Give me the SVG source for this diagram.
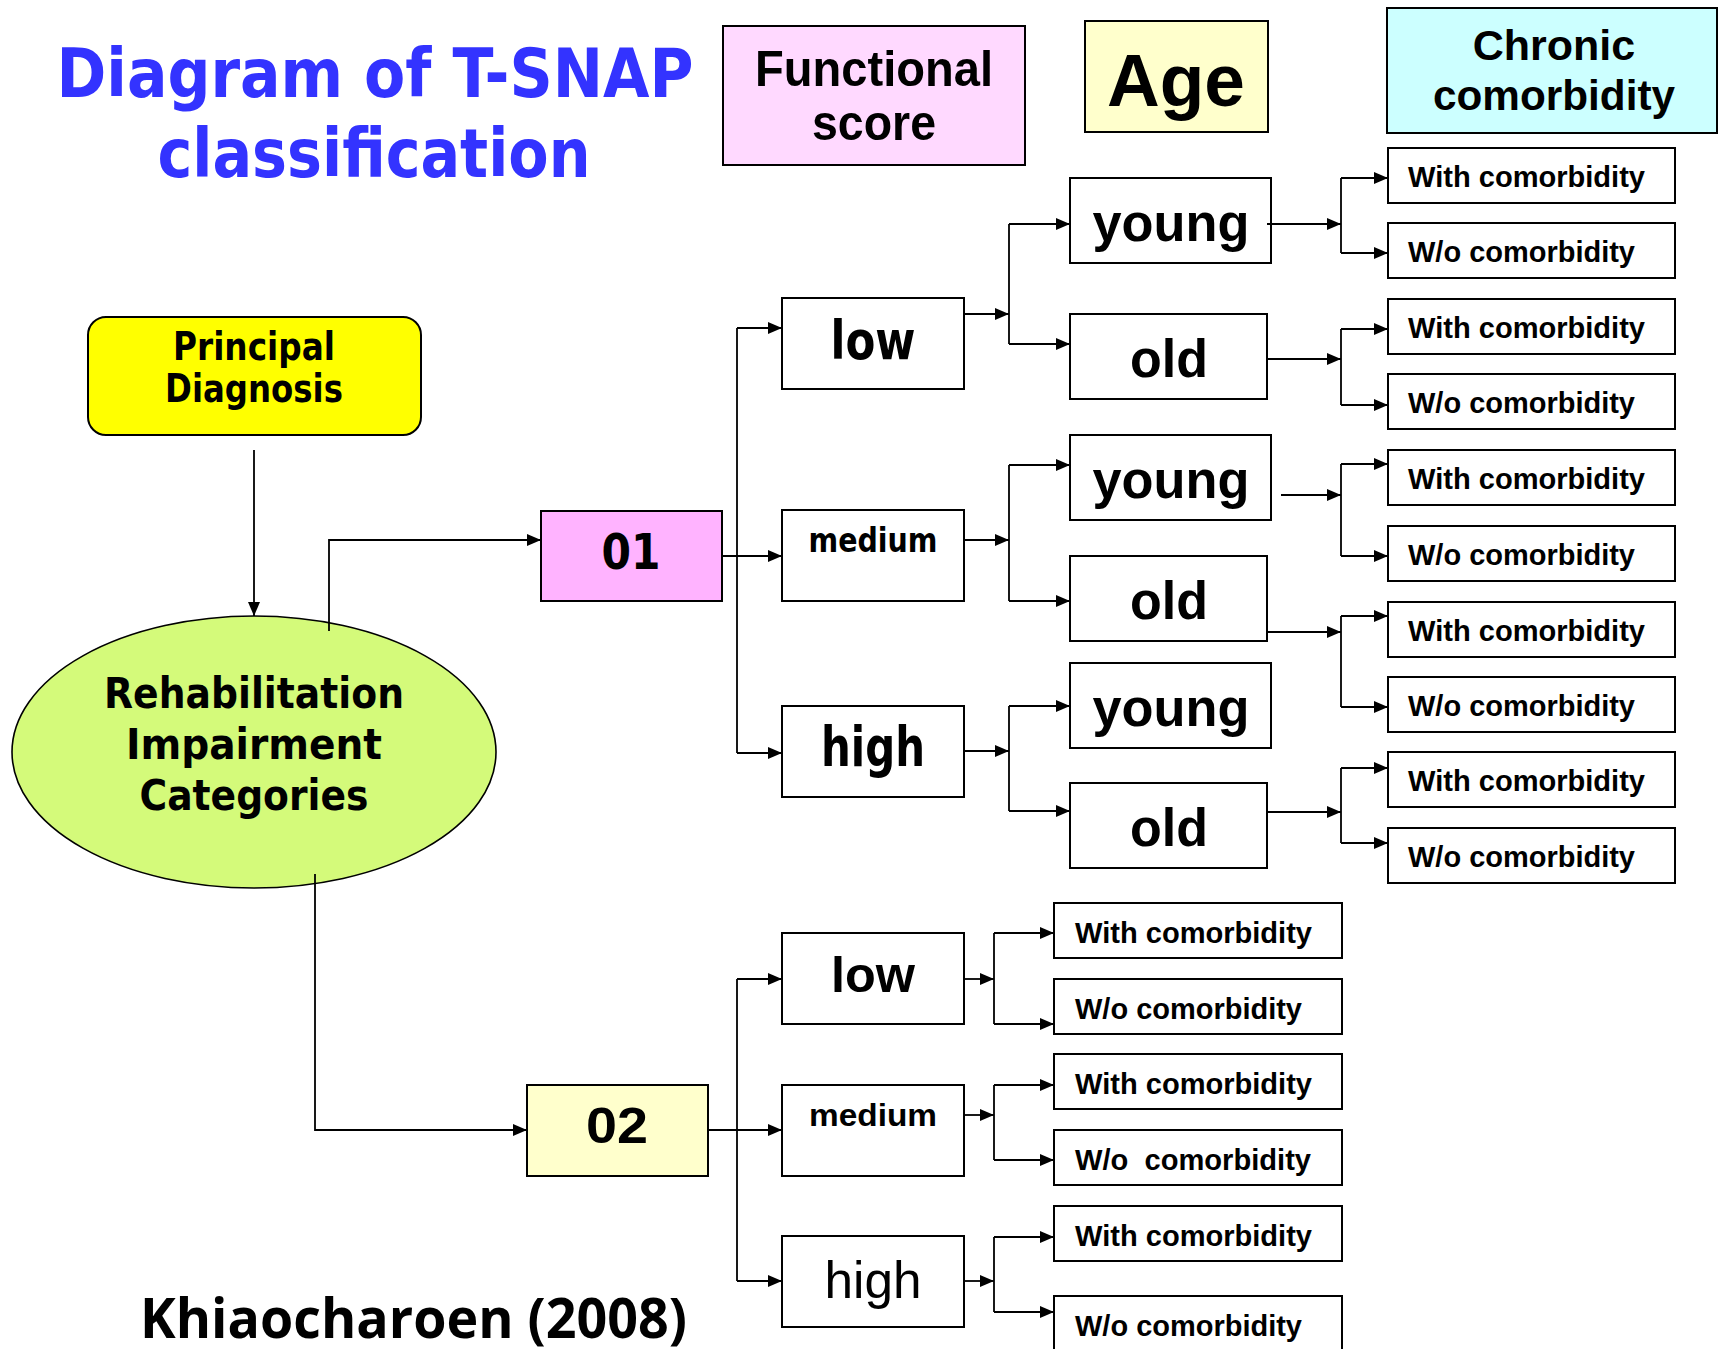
<svg xmlns="http://www.w3.org/2000/svg" width="1720" height="1349" viewBox="0 0 1720 1349">
<defs>
<marker id="ah" viewBox="0 0 14 12" refX="14" refY="6" markerWidth="14" markerHeight="12" markerUnits="userSpaceOnUse" orient="auto">
<path d="M0,0 L14,6 L0,12 z" fill="#000"/>
</marker>
<style>
.box{fill:#fff;stroke:#000;stroke-width:2}
.ln{fill:none;stroke:#000;stroke-width:1.8}
.ar{fill:none;stroke:#000;stroke-width:1.8;marker-end:url(#ah)}
.v{font-family:"DejaVu Sans",Verdana,sans-serif;font-weight:bold;fill:#000;text-anchor:middle}
.a{font-family:"Liberation Sans",Arial,sans-serif;font-weight:bold;fill:#000;text-anchor:middle}
.c{font-family:"Liberation Sans",Arial,sans-serif;font-weight:bold;fill:#000;font-size:30px}
.title{font-family:"DejaVu Sans",Verdana,sans-serif;font-weight:bold;fill:#3333FF;font-size:67px;text-anchor:middle}
.age{font-size:54px}
</style>
</defs>
<rect width="1720" height="1349" fill="#fff"/>

<g id="title">
<text class="title" x="375" y="97" textLength="637" lengthAdjust="spacingAndGlyphs">Diagram of T-SNAP</text>
<text class="title" x="374" y="177" textLength="433" lengthAdjust="spacingAndGlyphs">classification</text>
</g>

<g id="hdr-functional">
<rect x="723" y="26" width="302" height="139" fill="#FFD9FF" stroke="#000" stroke-width="2"/>
<text class="a" x="874" y="86" font-size="50" textLength="238" lengthAdjust="spacingAndGlyphs">Functional</text>
<text class="a" x="874" y="140" font-size="50" textLength="124" lengthAdjust="spacingAndGlyphs">score</text>
</g>
<g id="hdr-age">
<rect x="1085" y="21" width="183" height="111" fill="#FFFFCC" stroke="#000" stroke-width="2"/>
<text class="a" x="1176" y="106" font-size="75" textLength="138" lengthAdjust="spacingAndGlyphs">Age</text>
</g>
<g id="hdr-chronic">
<rect x="1387" y="8" width="330" height="125" fill="#CCFFFF" stroke="#000" stroke-width="2"/>
<text class="a" x="1554" y="60" font-size="43">Chronic</text>
<text class="a" x="1554" y="110" font-size="43" textLength="242" lengthAdjust="spacingAndGlyphs">comorbidity</text>
</g>

<g id="principal-diagnosis">
<rect x="88" y="317" width="333" height="118" rx="18" fill="#FFFF00" stroke="#000" stroke-width="2"/>
<text class="v" x="254" y="360" font-size="39" textLength="162" lengthAdjust="spacingAndGlyphs">Principal</text>
<text class="v" x="254" y="402" font-size="39" textLength="178" lengthAdjust="spacingAndGlyphs">Diagnosis</text>
</g>

<g id="ric">
<ellipse cx="254" cy="752" rx="242" ry="136" fill="#D4FA7A" stroke="#000" stroke-width="1.6"/>
<text class="v" x="254" y="708" font-size="43" textLength="300" lengthAdjust="spacingAndGlyphs">Rehabilitation</text>
<text class="v" x="254" y="759" font-size="43" textLength="256" lengthAdjust="spacingAndGlyphs">Impairment</text>
<text class="v" x="254" y="810" font-size="43" textLength="229" lengthAdjust="spacingAndGlyphs">Categories</text>
</g>

<g id="n01">
<rect x="541" y="511" width="181" height="90" fill="#FFB3FF" stroke="#000" stroke-width="2"/>
<text class="v" x="631" y="569" font-size="49" textLength="59" lengthAdjust="spacingAndGlyphs">01</text>
</g>
<g id="n01-low">
<rect class="box" x="782" y="298" width="182" height="91"/>
<text class="v" x="873" y="359" font-size="53" textLength="85" lengthAdjust="spacingAndGlyphs">low</text>
</g>
<g id="n01-medium">
<rect class="box" x="782" y="510" width="182" height="91"/>
<text class="v" x="873" y="552" font-size="33" textLength="129" lengthAdjust="spacingAndGlyphs">medium</text>
</g>
<g id="n01-high">
<rect class="box" x="782" y="706" width="182" height="91"/>
<text class="v" x="873" y="766" font-size="55" textLength="104" lengthAdjust="spacingAndGlyphs">high</text>
</g>

<g id="young1"><rect class="box" x="1070" y="178" width="201" height="85"/><text class="a age" x="1171" y="241" textLength="157" lengthAdjust="spacingAndGlyphs">young</text></g>
<g id="old1"><rect class="box" x="1070" y="314" width="197" height="85"/><text class="a age" x="1169" y="377" textLength="78" lengthAdjust="spacingAndGlyphs">old</text></g>
<g id="young2"><rect class="box" x="1070" y="435" width="201" height="85"/><text class="a age" x="1171" y="498" textLength="157" lengthAdjust="spacingAndGlyphs">young</text></g>
<g id="old2"><rect class="box" x="1070" y="556" width="197" height="85"/><text class="a age" x="1169" y="619" textLength="78" lengthAdjust="spacingAndGlyphs">old</text></g>
<g id="young3"><rect class="box" x="1070" y="663" width="201" height="85"/><text class="a age" x="1171" y="726" textLength="157" lengthAdjust="spacingAndGlyphs">young</text></g>
<g id="old3"><rect class="box" x="1070" y="783" width="197" height="85"/><text class="a age" x="1169" y="846" textLength="78" lengthAdjust="spacingAndGlyphs">old</text></g>

<g id="c01"><rect class="box" x="1388" y="148" width="287" height="55"/><text class="c" x="1408" y="187" textLength="237" lengthAdjust="spacingAndGlyphs">With comorbidity</text></g>
<g id="c02"><rect class="box" x="1388" y="223" width="287" height="55"/><text class="c" x="1408" y="262" textLength="227" lengthAdjust="spacingAndGlyphs">W/o comorbidity</text></g>
<g id="c03"><rect class="box" x="1388" y="299" width="287" height="55"/><text class="c" x="1408" y="338" textLength="237" lengthAdjust="spacingAndGlyphs">With comorbidity</text></g>
<g id="c04"><rect class="box" x="1388" y="374" width="287" height="55"/><text class="c" x="1408" y="413" textLength="227" lengthAdjust="spacingAndGlyphs">W/o comorbidity</text></g>
<g id="c05"><rect class="box" x="1388" y="450" width="287" height="55"/><text class="c" x="1408" y="489" textLength="237" lengthAdjust="spacingAndGlyphs">With comorbidity</text></g>
<g id="c06"><rect class="box" x="1388" y="526" width="287" height="55"/><text class="c" x="1408" y="565" textLength="227" lengthAdjust="spacingAndGlyphs">W/o comorbidity</text></g>
<g id="c07"><rect class="box" x="1388" y="602" width="287" height="55"/><text class="c" x="1408" y="641" textLength="237" lengthAdjust="spacingAndGlyphs">With comorbidity</text></g>
<g id="c08"><rect class="box" x="1388" y="677" width="287" height="55"/><text class="c" x="1408" y="716" textLength="227" lengthAdjust="spacingAndGlyphs">W/o comorbidity</text></g>
<g id="c09"><rect class="box" x="1388" y="752" width="287" height="55"/><text class="c" x="1408" y="791" textLength="237" lengthAdjust="spacingAndGlyphs">With comorbidity</text></g>
<g id="c10"><rect class="box" x="1388" y="828" width="287" height="55"/><text class="c" x="1408" y="867" textLength="227" lengthAdjust="spacingAndGlyphs">W/o comorbidity</text></g>

<g id="n02">
<rect x="527" y="1085" width="181" height="91" fill="#FFFFCC" stroke="#000" stroke-width="2"/>
<text class="a" x="617" y="1143" font-size="50" textLength="62" lengthAdjust="spacingAndGlyphs">02</text>
</g>
<g id="n02-low">
<rect class="box" x="782" y="933" width="182" height="91"/>
<text class="a" x="873" y="992" font-size="50" textLength="84" lengthAdjust="spacingAndGlyphs">low</text>
</g>
<g id="n02-medium">
<rect class="box" x="782" y="1085" width="182" height="91"/>
<text class="a" x="873" y="1126" font-size="32" textLength="128" lengthAdjust="spacingAndGlyphs">medium</text>
</g>
<g id="n02-high">
<rect class="box" x="782" y="1236" width="182" height="91"/>
<text class="a" x="873" y="1298" font-size="52" style="font-weight:normal" textLength="97" lengthAdjust="spacingAndGlyphs">high</text>
</g>

<g id="d01"><rect class="box" x="1054" y="903" width="288" height="55"/><text class="c" x="1075" y="943" textLength="237" lengthAdjust="spacingAndGlyphs">With comorbidity</text></g>
<g id="d02"><rect class="box" x="1054" y="979" width="288" height="55"/><text class="c" x="1075" y="1019" textLength="227" lengthAdjust="spacingAndGlyphs">W/o comorbidity</text></g>
<g id="d03"><rect class="box" x="1054" y="1054" width="288" height="55"/><text class="c" x="1075" y="1094" textLength="237" lengthAdjust="spacingAndGlyphs">With comorbidity</text></g>
<g id="d04"><rect class="box" x="1054" y="1130" width="288" height="55"/><text class="c" x="1075" y="1170" xml:space="preserve" textLength="236" lengthAdjust="spacingAndGlyphs">W/o  comorbidity</text></g>
<g id="d05"><rect class="box" x="1054" y="1206" width="288" height="55"/><text class="c" x="1075" y="1246" textLength="237" lengthAdjust="spacingAndGlyphs">With comorbidity</text></g>
<g id="d06"><rect class="box" x="1054" y="1296" width="288" height="60"/><text class="c" x="1075" y="1336" textLength="227" lengthAdjust="spacingAndGlyphs">W/o comorbidity</text></g>

<g id="credit">
<text x="140" y="1338" font-family="'Open Sans','Noto Sans',sans-serif" font-weight="bold" font-size="55" textLength="547" lengthAdjust="spacingAndGlyphs">Khiaocharoen (2008)</text>
</g>

<g id="connectors">
<path class="ar" d="M254,450 V616"/>
<path class="ar" d="M329,631 V540 H541"/>
<path class="ar" d="M315,874 V1130 H527"/>

<path class="ln" d="M722,556 H737 M737,328 V753"/>
<path class="ar" d="M737,328 H782"/>
<path class="ar" d="M737,556 H782"/>
<path class="ar" d="M737,753 H782"/>

<path class="ar" d="M964,314 H1009"/>
<path class="ln" d="M1009,224 V344"/>
<path class="ar" d="M1009,224 H1070"/>
<path class="ar" d="M1009,344 H1070"/>

<path class="ar" d="M964,540 H1009"/>
<path class="ln" d="M1009,465 V601"/>
<path class="ar" d="M1009,465 H1070"/>
<path class="ar" d="M1009,601 H1070"/>

<path class="ar" d="M964,751 H1009"/>
<path class="ln" d="M1009,706 V811"/>
<path class="ar" d="M1009,706 H1070"/>
<path class="ar" d="M1009,811 H1070"/>

<path class="ar" d="M1267,224 H1341"/>
<path class="ln" d="M1341,178 V253"/>
<path class="ar" d="M1341,178 H1388"/>
<path class="ar" d="M1341,253 H1388"/>

<path class="ar" d="M1267,359 H1341"/>
<path class="ln" d="M1341,329 V405"/>
<path class="ar" d="M1341,329 H1388"/>
<path class="ar" d="M1341,405 H1388"/>

<path class="ar" d="M1281,495 H1341"/>
<path class="ln" d="M1341,464 V556"/>
<path class="ar" d="M1341,464 H1388"/>
<path class="ar" d="M1341,556 H1388"/>

<path class="ar" d="M1267,632 H1341"/>
<path class="ln" d="M1341,616 V707"/>
<path class="ar" d="M1341,616 H1388"/>
<path class="ar" d="M1341,707 H1388"/>

<path class="ar" d="M1267,812 H1341"/>
<path class="ln" d="M1341,768 V843"/>
<path class="ar" d="M1341,768 H1388"/>
<path class="ar" d="M1341,843 H1388"/>

<path class="ln" d="M708,1130 H737 M737,979 V1281"/>
<path class="ar" d="M737,979 H782"/>
<path class="ar" d="M737,1130 H782"/>
<path class="ar" d="M737,1281 H782"/>

<path class="ar" d="M964,979 H994"/>
<path class="ln" d="M994,933 V1024"/>
<path class="ar" d="M994,933 H1054"/>
<path class="ar" d="M994,1024 H1054"/>

<path class="ar" d="M964,1115 H994"/>
<path class="ln" d="M994,1085 V1160"/>
<path class="ar" d="M994,1085 H1054"/>
<path class="ar" d="M994,1160 H1054"/>

<path class="ar" d="M964,1281 H994"/>
<path class="ln" d="M994,1237 V1312"/>
<path class="ar" d="M994,1237 H1054"/>
<path class="ar" d="M994,1312 H1054"/>
</g>
</svg>
